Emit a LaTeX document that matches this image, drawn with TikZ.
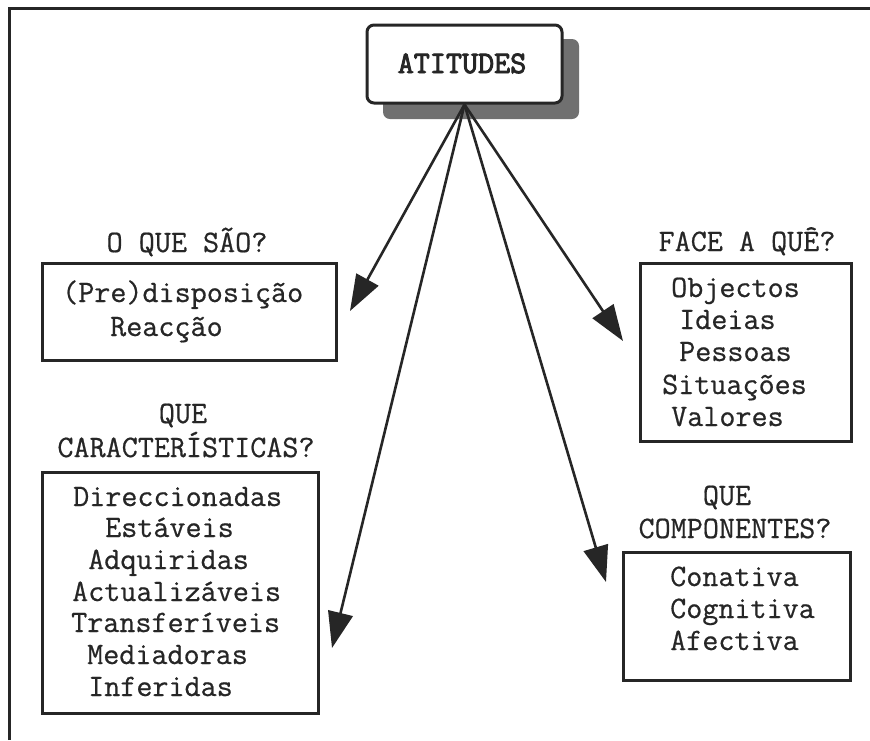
\documentclass[tikz,border=0pt]{standalone}
\usepackage{fontspec}
\setmonofont{Latin Modern Mono}[FakeBold=0.6]
\newfontfamily\titlemono{Latin Modern Mono}[FakeBold=3]
\usetikzlibrary{arrows.meta}
\definecolor{ink}{HTML}{262626}
\definecolor{shade}{HTML}{707070}
\tikzset{
  frameline/.style={draw=ink, line width=3pt},
  panel/.style={draw=ink, line width=3pt, fill=white, inner sep=0pt, rectangle},
  item/.style={anchor=base west, inner sep=0pt, text=ink,
    font=\ttfamily\fontsize{31.2}{34}\selectfont},
  head/.style={anchor=base, inner sep=0pt, text=ink,
    font=\ttfamily\fontsize{31.2}{34}\selectfont},
  link/.style={draw=ink, line width=2.6pt, -{Triangle[length=36pt,width=25pt]}}
}
\begin{document}
\begin{tikzpicture}[x=1pt, y=-1pt]
  \useasboundingbox (0,0) rectangle (870,740);
  \fill[white] (0,0) rectangle (870,740);

  % outer frame (top and left edges)
  \draw[frameline] (9,740) -- (9,8) -- (870,8);

  % title box with drop shadow
  \node[fill=shade, rounded corners=7pt, minimum width=196pt, minimum height=80pt,
        inner sep=0pt] (attshadow) at (481,79) {};
  \node[panel, rounded corners=7pt, minimum width=195pt, minimum height=78pt] (att) at (464.5,64) {};
  \node[head, font=\titlemono\fontsize{31.2}{34}\selectfont] (atttext) at (462,73) {ATITUDES};

  % arrow ends
  \coordinate (tipA) at (350,311);
  \coordinate (tipB) at (332,648);
  \coordinate (tipC) at (606,582);
  \coordinate (tipD) at (623,341);

  \draw[link] (att.south) -- (tipA);
  \draw[link] (att.south) -- (tipB);
  \draw[link] (att.south) -- (tipC);
  \draw[link] (att.south) -- (tipD);

  % O QUE SAO?
  \node[head] (hA) at (187,252) {O QUE SÃO?};
  \node[panel, minimum width=294pt, minimum height=97pt] (boxA) at (189,311.5) {};
  \node[item] (a1) at (62,302) {(Pre)disposição};
  \node[item] (a2) at (110,336) {Reacção};

  % FACE A QUE?
  \node[head] (hD) at (747,251) {FACE A QUÊ?};
  \node[panel, minimum width=211pt, minimum height=178pt] (boxD) at (745.5,352) {};
  \node[item] (d1) at (671,297) {Objectos};
  \node[item] (d2) at (679,329) {Ideias};
  \node[item] (d3) at (679,361) {Pessoas};
  \node[item] (d4) at (662,394) {Situações};
  \node[item] (d5) at (671,426) {Valores};

  % QUE CARACTERISTICAS?
  \node[head] (hB1) at (183,423) {QUE};
  \node[head] (hB2) at (186,457) {CARACTERÍSTICAS?};
  \node[panel, minimum width=276pt, minimum height=241pt] (boxB) at (180,592.5) {};
  \node[item] (b1) at (73,506) {Direccionadas};
  \node[item] (b2) at (105,537) {Estáveis};
  \node[item] (b3) at (88,569) {Adquiridas};
  \node[item] (b4) at (72,601) {Actualizáveis};
  \node[item] (b5) at (71,632) {Transferíveis};
  \node[item] (b6) at (87,664) {Mediadoras};
  \node[item] (b7) at (88,696) {Inferidas};

  % QUE COMPONENTES?
  \node[head] (hC1) at (727,505) {QUE};
  \node[head] (hC2) at (735,538) {COMPONENTES?};
  \node[panel, minimum width=227pt, minimum height=128pt] (boxC) at (736.5,616) {};
  \node[item] (c1) at (670,586) {Conativa};
  \node[item] (c2) at (670,618) {Cognitiva};
  \node[item] (c3) at (670,650) {Afectiva};
\end{tikzpicture}
\end{document}
